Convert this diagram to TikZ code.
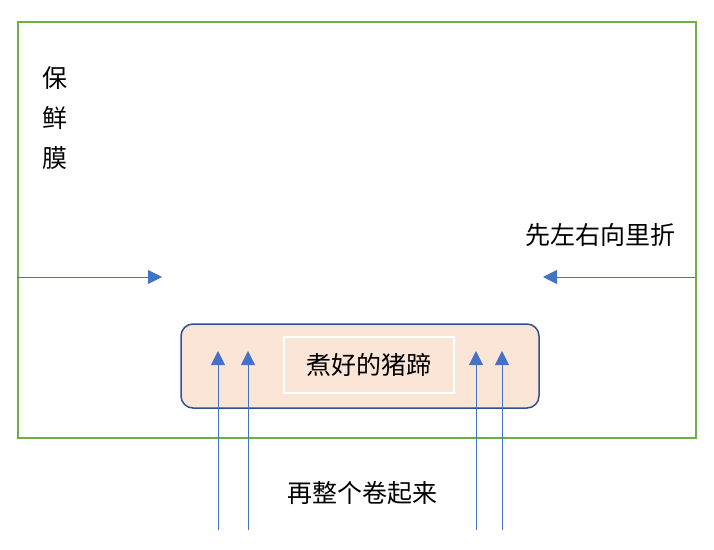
\documentclass[tikz,border=0pt]{standalone}
\usepackage{fontspec}
\setmainfont{Noto Sans CJK SC}
\usetikzlibrary{arrows.meta}
\definecolor{filmgreen}{RGB}{112,173,71}
\definecolor{arrowblue}{RGB}{68,114,196}
\definecolor{boxblue}{RGB}{47,82,143}
\definecolor{hoofpink}{RGB}{251,229,214}
\tikzset{
  label text/.style={font=\fontsize{25}{40}\selectfont, inner sep=0pt},
  fold arrow/.style={arrowblue, line width=1pt, -{Triangle[length=14pt,width=14pt]}}
}
\begin{document}
\begin{tikzpicture}[x=1pt,y=-1pt]
\useasboundingbox (0,0) rectangle (714,549);
\node[draw=filmgreen, line width=1.8pt, minimum width=678pt, minimum height=416pt, inner sep=0pt, anchor=north west] (film) at (17,21) {};
\node[label text, align=center] (filmtext) at (55,118) {保\\鲜\\膜};
\node[label text] (foldtext) at (600,235) {先左右向里折};
\node[draw=boxblue, fill=hoofpink, line width=1.5pt, rounded corners=12pt, minimum width=358pt, minimum height=84pt, inner sep=0pt] (pad) at (360,366) {};
\node[label text, draw=white, line width=1.5pt, minimum width=170pt, minimum height=56pt] (hoof) at (369,365) {煮好的猪蹄};
\node[label text] (rolltext) at (362,493) {再整个卷起来};
% left and right folds
\coordinate (lin) at (17,277);
\coordinate (lout) at (162,277);
\coordinate (rin) at (695,277);
\coordinate (rout) at (543,277);
\draw[fold arrow] (lin) -- (lout);
\draw[fold arrow] (rin) -- (rout);
% rolling up
\foreach \x/\n in {218/a,248/b,476/c,502/d}{
  \coordinate (up\n) at (\x,530);
  \coordinate (tip\n) at (\x,351);
  \draw[fold arrow] (up\n) -- (tip\n);
}
\end{tikzpicture}
\end{document}
